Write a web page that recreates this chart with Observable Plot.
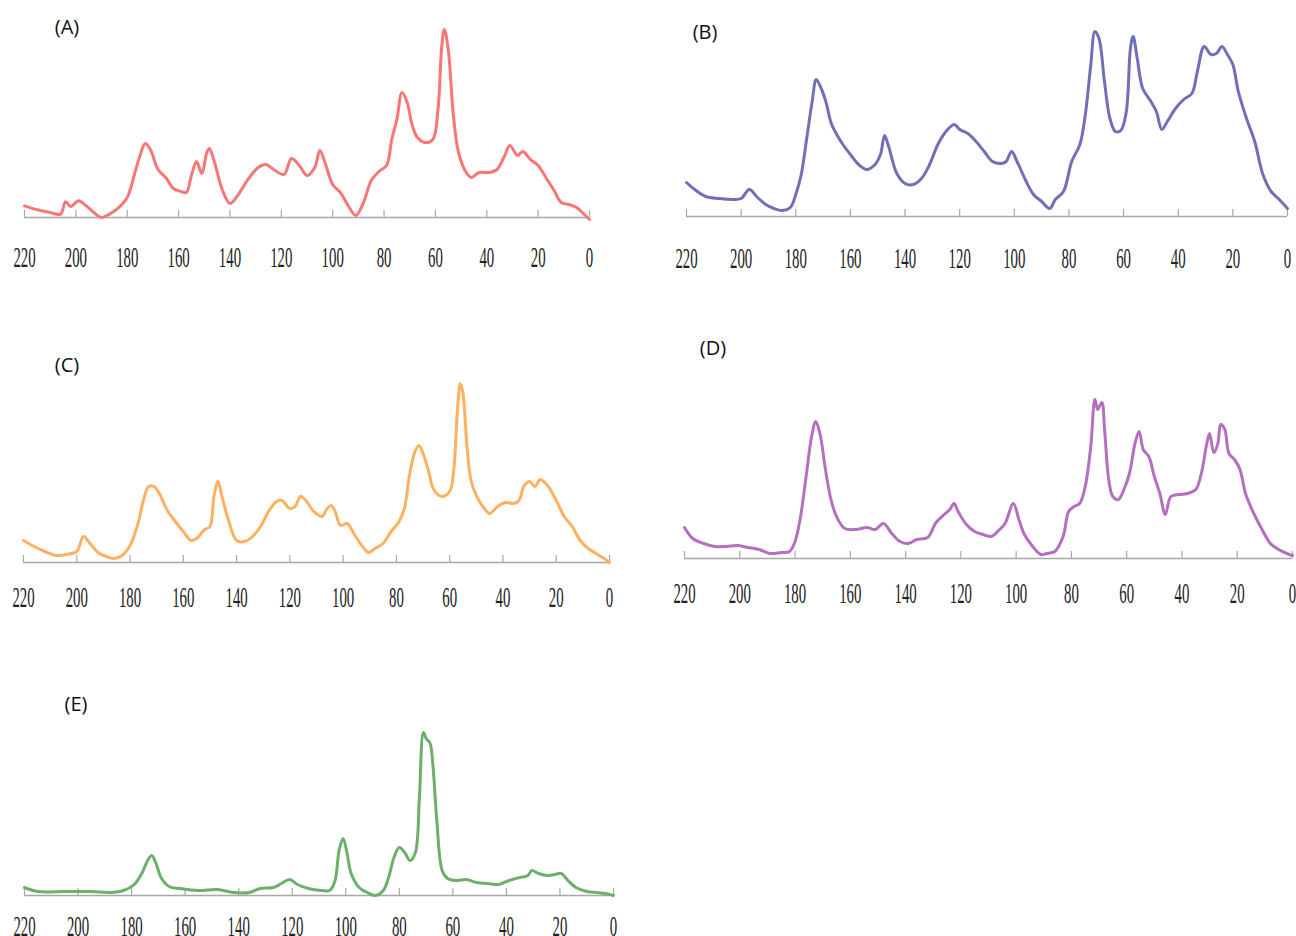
<!DOCTYPE html>
<html>
<head>
<meta charset="utf-8">
<script src="https://cdn.jsdelivr.net/npm/d3@7"></script>
<script src="https://cdn.jsdelivr.net/npm/@observablehq/plot@0.6"></script>
<style>
  html, body { margin: 0; padding: 0; background: #fff; }
  #root { position: relative; width: 1296px; height: 936px; overflow: hidden; background: #fff; }
  .lbl { position: absolute; font-family: "Open Sans", "Noto Sans", sans-serif; font-size: 20px; color: #111; transform: translate(-50%, -50%); white-space: nowrap; }
</style>
</head>
<body>
<div id="root"></div>
<script>
// ---- data (chemical shift in ppm, intensity in arbitrary units) ----
const tickValues = [220, 200, 180, 160, 140, 120, 100, 80, 60, 40, 20, 0];

const ppmA = [220,215,210,206,204,202,199,196,193,190,187,184,180,177,175,173,171,168,165,162,159,157,155,153,151,149,148,146,143,140,137,133,129,126,123,119,116,113,110,107,105,103,100,97,94,91,88,85,82,79,77,75,73,71,69,67,64,61,59,57.5,56.5,55,53,51,48,46,43,39,36,33,31,28,26,23,20,17,14,11,8,5,2,0];
const intA = [11.7,7.7,5,3.3,15.7,11,16.7,11.7,5,0,3.3,8.3,20,45,62,74,68,48,40,29,26,25,42,56,44,65,69,55,28,14,22,38,50,53,48,43,59,52,42,50,67,55,33,25,12,2,15,37,46,52,78,98,125,115,92,80,75,78,108,172,188,168,102,65,45,40,45,45,48,62,72,62,66,58,52,40,28,15,13,10,3,-2];

const ppmB = [220,217,213,208,203,200,197,194,191,188,185,182,180,178,176,174,172.5,171,169,167,165,163,160,157,154,151,149,147.5,146,143,140,137,134,131,128,125,122,120,117,114,111,108,105,103,101,99,96,93,90,87,85,82,79,76,74,72,70.5,69,67,65,63,61,59,57.5,56.5,55,53,50,48,46,44,41,38,35,33,30.5,28,26,24,22,20,18,15,12,9,6,3,0];
const intB = [34,27,20,18,17,18,27,19,12,8,6,9,22,42,78,115,137,130,115,93,82,73,62,52,47,52,62,81,70,43,33,32,38,52,72,85,92,87,83,75,65,55,53,55,65,55,37,22,15,8,17,25,55,72,102,152,185,178,135,98,85,86,105,168,180,158,128,115,105,87,95,108,117,123,145,170,162,163,170,162,152,125,98,75,42,25,17,8];

const ppmC = [220,216,212,208,204,200,197.5,195,192,189,186,183,180,177,175,173,171,169,166,163,160,157,155,152,150,148.5,147,145.5,143,140,137,134,131,128,125,123,120,118,116,114,111,108,106,104.5,103,101,98.5,96,93,90.5,88,85,82,79,77,75,73,71.5,70,68,66,63,60,58.5,57,56,55,53.5,52,50,47,45,42,39,36,34,32,30,28,26,23,20,17,14,11,8,5,2,0];
const intC = [22,16,11,7,8,11,26,19,10,6,4,7,17,39,62,76,76,69,52,41,31,22,24,33,36,66,81,66,42,22,21,26,36,51,61,62,54,56,66,62,51,46,54,57,51,37,39,29,17,10,14,19,31,41,54,89,111,117,109,92,73,66,71,92,156,179,169,116,82,67,54,49,56,60,59,62,77,81,76,83,76,62,46,36,22,14,9,4,0];

const ppmD = [220,217,213,209,205,201,197,193,189,185,182,180,178,176,174,172.5,171,169,167,165,162,158,154,151,148,145,142,139,136,132,129,126,124,122.5,121,118,115,112,109,106,104,101,99,97,94,91,89,86,83,81,79,77,75,73,71.5,70.5,69,68,66.5,65,63,61,59,57,55.5,54,52,50,48,46,44,41,38,35,33,31,30,28.5,27,26,24.5,23,21,19,17,14,11,8,5,2,0];
const intD = [31,20,15,12,12,13,11,9,5,6,7,17,42,82,122,137,125,89,59,42,30,29,31,29,35,25,17,15,19,21,36,44,49,55,47,34,27,24,22,29,35,55,39,24,12,4,5,7,22,47,52,55,72,112,159,149,156,129,79,62,59,69,85,115,127,109,102,82,65,44,62,64,65,69,85,115,125,106,115,134,129,105,99,89,65,45,29,15,9,5,3];

const ppmE = [220,215,205,195,188,183,179,176,174,172.5,171,169,166,162,155,148,142,136,132,127,124,121,118,114,109,106,104,102.5,101,99.5,98,95,92,89,86,84,82,80,78,76,74,72.5,71,70,68.5,67.5,66,64,62,59,55,51,47,43,39,35,32,30.5,28,25,22,19.5,17,14,10,6,3,0];
const intE = [8,4,4,4,3,5,11,23,35,40,33,18,9,7,5,6,3,3,7,8,12,16,11,7,5,5,15,45,57,42,22,8,3,0,5,18,38,48,43,35,43,98,163,157,152,132,75,25,17,15,16,13,12,11,15,18,20,25,22,20,21,22,15,8,4,3,2,0];

const panelLabels = ["(A)", "(B)", "(C)", "(D)", "(E)"];
const panelColors = ["#f77676", "#6f70b8", "#ffb060", "#b46fc0", "#6cb06c"];

// ---- layout ----
const layout = [
  {x0: 24,  x1: 589,  axisY: 217, labelOff: 40, lx: 67,  ly: 26},
  {x0: 686, x1: 1287, axisY: 216, labelOff: 42, lx: 705, ly: 31},
  {x0: 23,  x1: 609,  axisY: 562, labelOff: 35, lx: 67,  ly: 364},
  {x0: 684, x1: 1292, axisY: 558, labelOff: 35, lx: 713, ly: 347},
  {x0: 24,  x1: 613,  axisY: 895, labelOff: 31, lx: 76,  ly: 703}
];
const series = [[ppmA, intA], [ppmB, intB], [ppmC, intC], [ppmD, intD], [ppmE, intE]];

const root = document.getElementById("root");
const mL = 30, mR = 30, mT = 10, mB = 60, span = 200;

series.forEach(([ppm, val], i) => {
  const L = layout[i];
  const data = ppm.map((p, k) => ({ppm: p, v: val[k]}));
  const width = (L.x1 - L.x0) + mL + mR;
  const height = mT + span + mB;
  const svg = Plot.plot({
    width, height,
    marginLeft: mL, marginRight: mR, marginTop: mT, marginBottom: mB,
    x: {domain: [220, 0], axis: null},
    y: {domain: [0, span], axis: null},
    style: {background: "transparent", overflow: "visible"},
    marks: [
      Plot.ruleY([0], {stroke: "#a8a8a8", strokeWidth: 1.5}),
      Plot.ruleX(tickValues, {x: d => d, y1: 0, y2: 7, stroke: "#a8a8a8", strokeWidth: 1.2}),
      Plot.line(data, {x: "ppm", y: "v", stroke: panelColors[i], strokeWidth: 3, curve: "catmull-rom", strokeLinejoin: "round"}),
      Plot.text(tickValues, {x: d => d, y: 0, dy: L.labelOff, text: d => String(d), fontSize: 29, fontFamily: "Liberation Serif, serif", fill: "#222"})
    ]
  });
  // horizontally condense tick labels (narrow serif digits)
  svg.querySelectorAll("text").forEach(t => {
    const n = (t.textContent || "").length;
    t.setAttribute("textLength", String(n * 7.4));
    t.setAttribute("lengthAdjust", "spacingAndGlyphs");
  });
  svg.style.position = "absolute";
  svg.style.left = (L.x0 - mL) + "px";
  svg.style.top = (L.axisY - mT - span) + "px";
  root.appendChild(svg);

  const lab = document.createElement("div");
  lab.className = "lbl";
  lab.textContent = panelLabels[i];
  lab.style.left = L.lx + "px";
  lab.style.top = L.ly + "px";
  root.appendChild(lab);
});
</script>
</body>
</html>
